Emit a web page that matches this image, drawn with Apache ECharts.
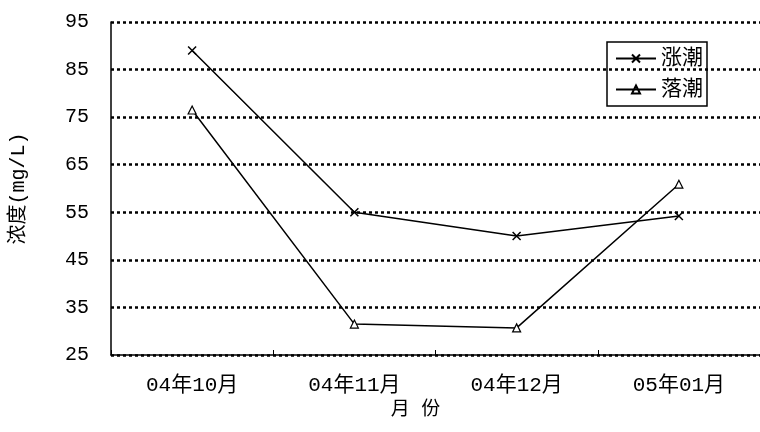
<!DOCTYPE html>
<html><head><meta charset="utf-8">
<script src="https://cdn.jsdelivr.net/npm/echarts@6/dist/echarts.min.js"></script>
<style>html,body{margin:0;padding:0;background:#fff}#c{width:760px;height:432px}</style>
</head><body><div id="c"></div>
<script>
const categories = ['04年10月','04年11月','04年12月','05年01月'];
const flood = [89, 55, 50, 54.2];
const ebb = [76.5, 31.5, 30.7, 60.9];
const yTicks = [25,35,45,55,65,75,85,95];
const font = '"Liberation Mono", "Noto Sans CJK SC", monospace';
const chart = echarts.init(document.getElementById('c'));
chart.setOption({
  animation:false,
  grid:{left:111,right:-11,top:22,bottom:77},
  legend:{right:53,top:42,orient:'vertical',itemWidth:40,itemHeight:10,itemGap:10,
    borderColor:'#000',borderWidth:1.5,borderRadius:0,padding:[6,4,6,8],
    textStyle:{fontFamily:font,fontSize:21,color:'#000'},
    data:[{name:'涨潮',icon:'path://M0,5L40,5M16,1L24,9M24,1L16,9'},{name:'落潮',icon:'path://M0,5L40,5M16,9L20,1L24,9Z'}]},
  xAxis:{type:'category',data:categories,boundaryGap:true,
    name:'月 份',nameLocation:'middle',nameGap:44,nameTextStyle:{fontFamily:font,fontSize:19,color:'#000',padding:[0,0,0,-40]},
    axisLine:{lineStyle:{color:'#000',width:1.5}},axisTick:{show:true,length:5,inside:true,lineStyle:{color:'#000'}},
    axisLabel:{fontFamily:font,fontSize:21,color:'#000',margin:20}},
  yAxis:{type:'value',min:25,max:95,interval:10,
    name:'浓度(mg/L)',nameLocation:'middle',nameGap:82,nameRotate:90,nameTextStyle:{fontFamily:font,fontSize:20,color:'#000'},
    axisLine:{show:true,lineStyle:{color:'#000',width:1.5}},axisTick:{show:false},
    axisLabel:{fontFamily:font,fontSize:20,color:'#000',margin:22},
    splitLine:{lineStyle:{color:'#000',type:[3,3],width:2.5}}},
  series:[
    {name:'涨潮',type:'line',data:flood,symbol:'path://M0,0L10,10M10,0L0,10',symbolSize:8,
      lineStyle:{color:'#000',width:1.5},itemStyle:{color:'#fff',borderColor:'#000',borderWidth:1.5}},
    {name:'落潮',type:'line',data:ebb,symbol:'triangle',symbolSize:8,
      lineStyle:{color:'#000',width:1.5},itemStyle:{color:'#fff',borderColor:'#000',borderWidth:1.2}}
  ]
});
</script></body></html>
